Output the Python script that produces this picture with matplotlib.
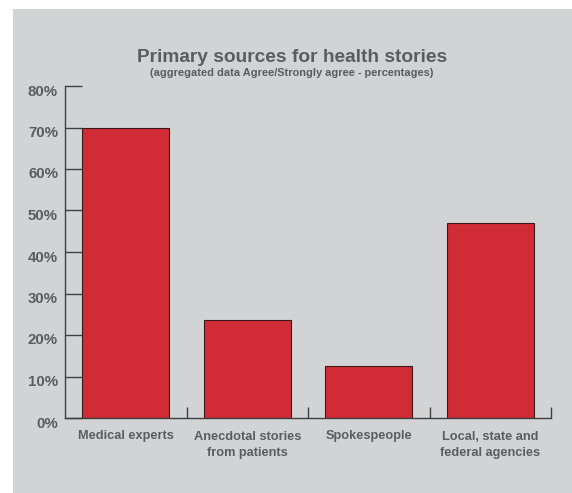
import matplotlib.pyplot as plt
import matplotlib.transforms as mtransforms
from matplotlib.patches import Rectangle

categories = ["Medical experts", "Anecdotal stories\nfrom patients", "Spokespeople",
              "Local, state and\nfederal agencies"]
values = [70, 23.5, 12.5, 47]
yticks = [0, 10, 20, 30, 40, 50, 60, 70, 80]
ytick_labels = [f"{v}%" for v in yticks]

text_col = "#5b5c5f"
axis_col = "#3f3f3f"
bar_col = "#d12b36"
panel_col = "#d2d3d5"

plt.rcParams['font.family'] = ['Liberation Sans', 'DejaVu Sans']

fig = plt.figure(figsize=(5.72, 4.93), dpi=100)
fig.patch.set_facecolor("white")
# grey panel behind the chart
fig.patches.append(Rectangle((13 / 572, 0), 1 - 13 / 572, 1 - 9 / 493,
                             transform=fig.transFigure, facecolor=panel_col,
                             edgecolor="none", zorder=-1))

ax = fig.add_axes([65 / 572, 75 / 493, 486 / 572, 332 / 493])
ax.set_facecolor("none")

x = list(range(len(categories)))
ax.bar(x, values, width=0.72, color=bar_col, edgecolor="#3a1a1a", linewidth=0.8)

ax.set_xlim(-0.5, len(categories) - 0.5)
ax.set_ylim(0, 80)
ax.set_yticks(yticks, ytick_labels)
ax.set_xticks(x, categories)
ax.set_xticks([i + 0.5 for i in x], minor=True)

for side in ["top", "right"]:
    ax.spines[side].set_visible(False)
for side in ["left", "bottom"]:
    ax.spines[side].set_color(axis_col)
    ax.spines[side].set_linewidth(1)

ax.tick_params(axis="y", direction="in", length=12, width=1, color=axis_col,
               labelsize=10.8, labelcolor=text_col, pad=5)
ax.tick_params(axis="x", which="major", length=0, labelsize=9.2, labelcolor=text_col, pad=9)
ax.tick_params(axis="x", which="minor", direction="in", length=8, width=1, color=axis_col)
for lab in ax.get_xticklabels():
    lab.set_fontweight("bold")
    lab.set_linespacing(1.45)
# y labels sit a little below their ticks in the original
shift = mtransforms.ScaledTranslation(0, -4 / 100, fig.dpi_scale_trans)
for lab in ax.get_yticklabels():
    lab.set_fontweight("bold")
    lab.set_transform(lab.get_transform() + shift)

fig.text(292 / 572, 1 - 57 / 493, "Primary sources for health stories",
         ha="center", va="center", fontsize=13.8, fontweight="bold", color=text_col)
fig.text(292 / 572, 1 - 72.5 / 493, "(aggregated data Agree/Strongly agree - percentages)",
         ha="center", va="center", fontsize=7.9, fontweight="bold", color=text_col)

plt.savefig("out.png", dpi=100)
